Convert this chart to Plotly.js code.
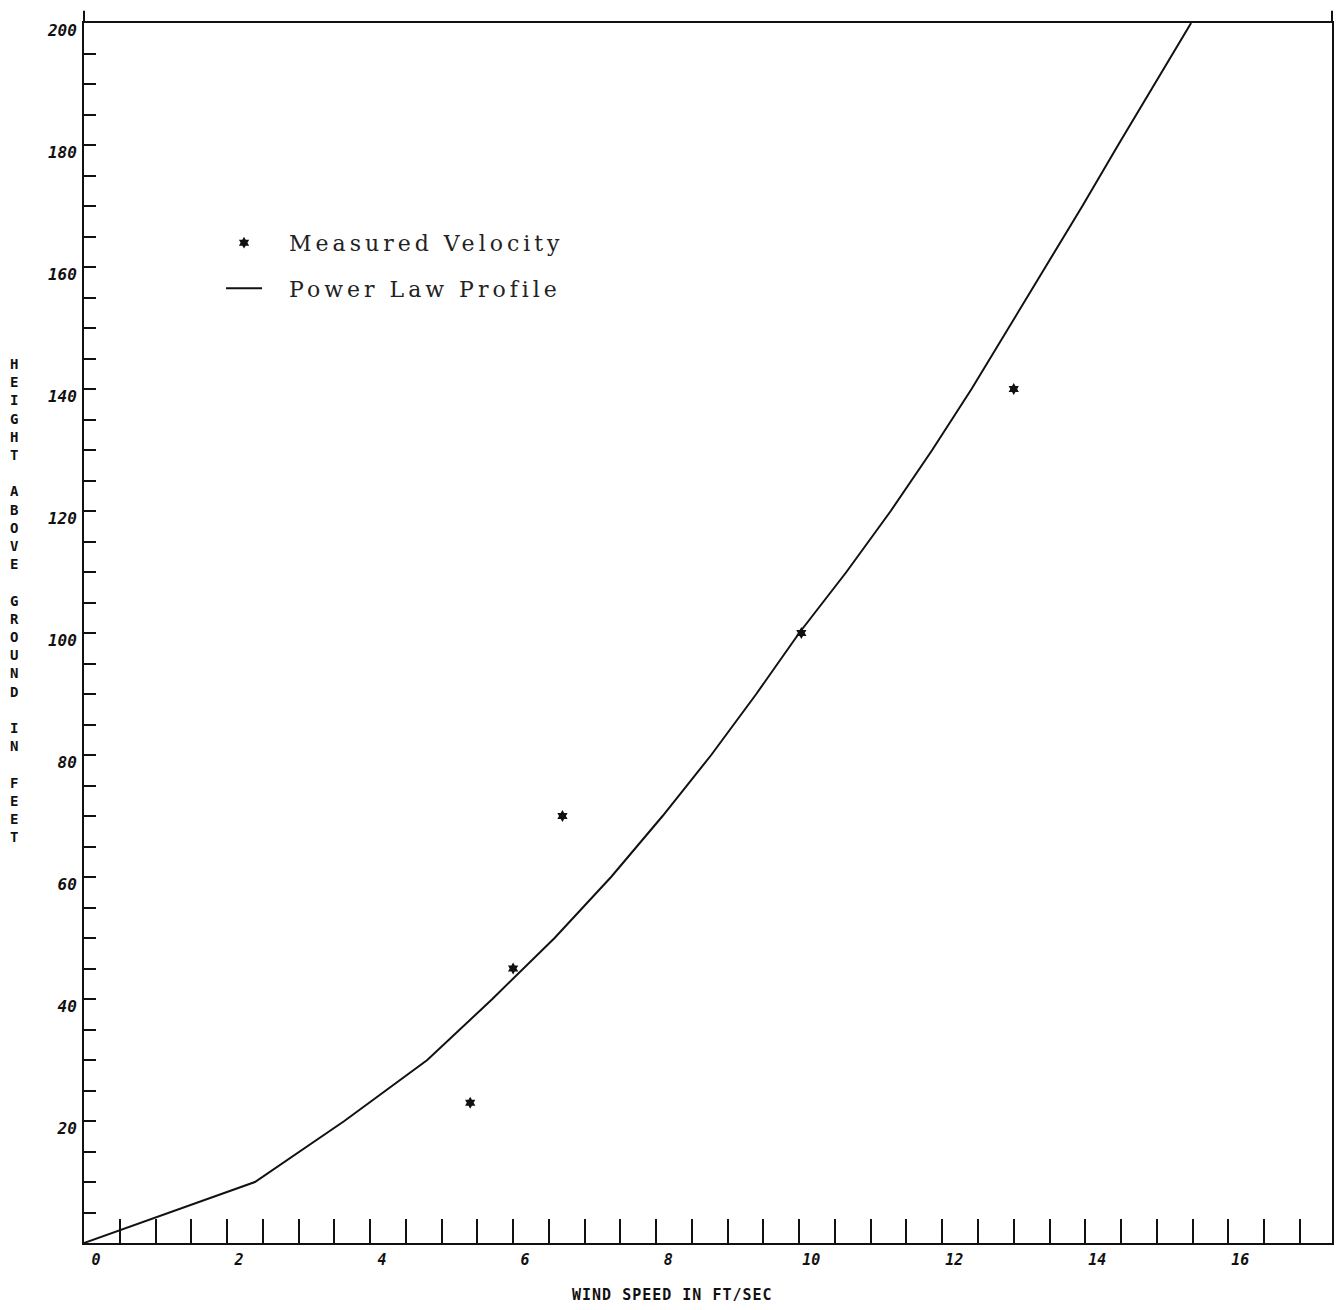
<!DOCTYPE html>
<html>
<head>
<meta charset="utf-8">
<script src="https://cdn.plot.ly/plotly-3.0.1.min.js"></script>
<style>html,body{margin:0;padding:0;background:#fff;}#chart{width:1339px;height:1310px;}</style>
</head>
<body>
<div id="chart"></div>
<script>
// Power law profile (every 10 ft)
var profileSpeed = [0, 2.39, 3.64, 4.80, 5.71, 6.58, 7.37, 8.09, 8.77, 9.40, 10.0, 10.66, 11.28, 11.86, 12.41, 12.93, 13.45, 13.96, 14.46, 14.97, 15.48];
var profileHeight = [0, 10, 20, 30, 40, 50, 60, 70, 80, 90, 100, 110, 120, 130, 140, 150, 160, 170, 180, 190, 200];
// Measured velocity points
var measuredSpeed = [5.40, 6.00, 6.69, 10.03, 13.00];
var measuredHeight = [23, 45, 70, 100, 140];
// Tick labels
var xLabelValues = [0, 2, 4, 6, 8, 10, 12, 14, 16];
var yLabelValues = [20, 40, 60, 80, 100, 120, 140, 160, 180, 200];
var xTitle = "WIND SPEED IN FT/SEC";
var yTitleWords = ["HEIGHT", "ABOVE", "GROUND", "IN", "FEET"];

var xTickVals = [], xTickText = [];
for (var i = 0; i <= 34; i++) {
  var v = i * 0.5;
  xTickVals.push(v);
  xTickText.push(xLabelValues.indexOf(v) >= 0 ? String(v) : "");
}
var yTickVals = [], yTickText = [];
for (var j = 1; j <= 40; j++) {
  var w = j * 5;
  yTickVals.push(w);
  yTickText.push(yLabelValues.indexOf(w) >= 0 ? String(w) : "");
}

var yTitleText = yTitleWords.map(function (wd) { return wd.split("").join("<br>"); }).join("<br> <br>");

var xTickFont = {family: "DejaVu Sans Mono", size: 15, color: "#111", weight: "bold", style: "italic"};
var yTickFont = {family: "DejaVu Sans Mono", size: 16, color: "#111", weight: "bold", style: "italic"};
var legendStyle = '<span style="letter-spacing:4px">&nbsp;&nbsp;';

var traces = [
  {
    x: measuredSpeed, y: measuredHeight, type: "scatter", mode: "markers",
    name: legendStyle + "Measured Velocity</span>",
    legendgroup: "a",
    marker: {symbol: "hexagram", size: 9, color: "#111", line: {width: 0}},
    hoverinfo: "x+y"
  },
  {
    x: profileSpeed, y: profileHeight, type: "scatter", mode: "lines",
    name: legendStyle + "Power Law Profile</span>",
    legendgroup: "b",
    line: {color: "#111", width: 2},
    hoverinfo: "x+y"
  }
];

var layout = {
  width: 1339, height: 1310,
  paper_bgcolor: "#fff", plot_bgcolor: "#fff",
  margin: {l: 84, r: 7, t: 23, b: 67},
  showlegend: true,
  legend: {
    x: 0.1098, y: 0.837, xanchor: "left", yanchor: "top",
    bgcolor: "rgba(0,0,0,0)", borderwidth: 0,
    traceorder: "grouped", tracegroupgap: 14,
    font: {family: "DejaVu Serif", size: 22, color: "#222"},
    itemwidth: 36
  },
  xaxis: {
    range: [0, 17.45], autorange: false,
    showline: true, linecolor: "#111", linewidth: 2, mirror: true,
    showgrid: false, zeroline: false,
    tickmode: "array", tickvals: xTickVals, ticktext: xTickText,
    ticks: "inside", ticklen: 24, tickwidth: 2, tickcolor: "#111",
    tickfont: xTickFont, ticklabelshift: 12, ticklabelstandoff: 2
  },
  yaxis: {
    range: [0, 200], autorange: false,
    showline: true, linecolor: "#111", linewidth: 2, mirror: true,
    showgrid: false, zeroline: false,
    tickmode: "array", tickvals: yTickVals, ticktext: yTickText,
    ticks: "inside", ticklen: 12, tickwidth: 2, tickcolor: "#111",
    tickfont: yTickFont, ticklabelshift: 7, ticklabelstandoff: 2
  },
  shapes: [
    {type: "line", xref: "paper", yref: "paper", x0: 0, x1: 0, y0: 1, y1: 1.01, line: {color: "#111", width: 2}},
    {type: "line", xref: "paper", yref: "paper", x0: 1, x1: 1, y0: 1, y1: 1.01, line: {color: "#111", width: 2}}
  ],
  annotations: [
    {
      text: '<span style="letter-spacing:1px">' + xTitle + '</span>', xref: "paper", yref: "paper",
      x: (672 - 84) / 1248, y: -0.0425, xanchor: "center", yanchor: "middle",
      showarrow: false,
      font: {family: "DejaVu Sans Mono", size: 15, color: "#111", weight: "bold"}
    },
    {
      text: yTitleText, xref: "paper", yref: "paper",
      x: -0.056, y: (1243 - 600) / 1220, xanchor: "center", yanchor: "middle",
      showarrow: false, align: "center",
      font: {family: "DejaVu Sans Mono", size: 14, color: "#111", weight: "bold"}
    }
  ]
};

Plotly.newPlot("chart", traces, layout, {displayModeBar: false});
</script>
</body>
</html>
